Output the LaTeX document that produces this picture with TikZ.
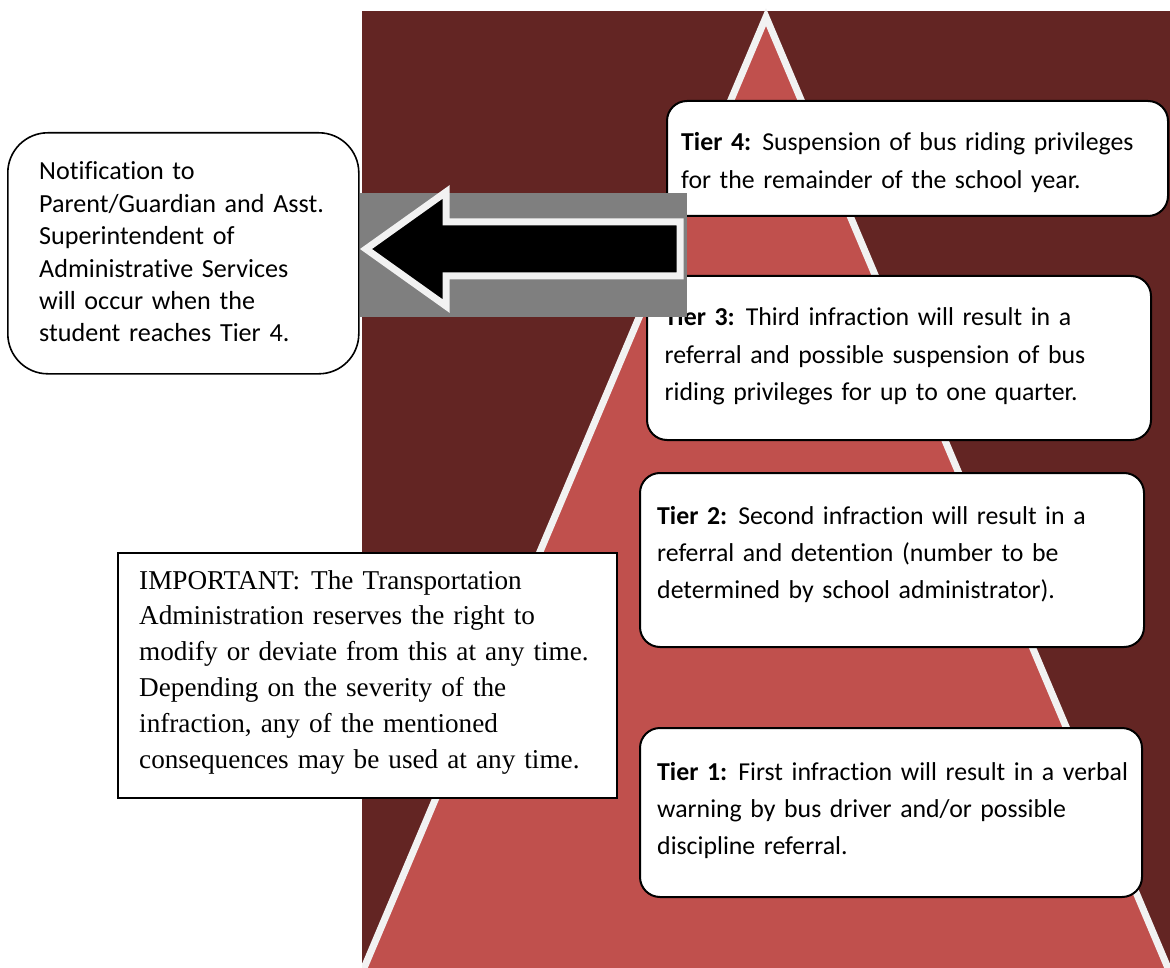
\documentclass[tikz,border=0pt]{standalone}
\usepackage{fontspec}
\setmainfont[Ligatures=NoCommon]{Carlito}
\newfontfamily\notefont{Liberation Serif}
\definecolor{pyrdark}{HTML}{632523}
\definecolor{pyrred}{HTML}{C0504D}
\definecolor{pyredge}{HTML}{F2F2F2}
\definecolor{arrowgray}{HTML}{7F7F7F}
\newcommand{\tiergap}{\hspace{11pt}}
\tikzset{
  tierbox/.style={draw=black, line width=2pt, fill=white, rounded corners=20pt,
    inner sep=0pt, anchor=north west},
  notebox/.style={draw=black, line width=1.6pt, fill=white, rounded corners=40pt,
    inner sep=0pt, anchor=north west},
  infobox/.style={draw=black, line width=2pt, fill=white,
    inner sep=0pt, anchor=north west},
  tiertext/.style={anchor=base west, inner sep=0pt, text width=520pt, align=left,
    font=\fontsize{25.8}{37.3}\selectfont},
  notetext/.style={anchor=base west, inner sep=0pt, text width=330pt, align=left,
    font=\fontsize{26.1}{32.4}\selectfont},
  infotext/.style={anchor=base west, inner sep=0pt, text width=480pt, align=left,
    font=\notefont\fontsize{27.2}{35.8}\selectfont},
  blockarrow/.style={fill=black, draw=pyredge, line width=7pt, line join=miter, miter limit=10},
}
\begin{document}
\begin{tikzpicture}[x=1pt,y=-1pt]
\useasboundingbox (0,0) rectangle (1170,968);

% dark panel and the pyramid
\fill[pyrdark] (362,11) rectangle (1170,968);
\begin{scope}
  \clip (362,0) rectangle (1170,968);
  \filldraw[fill=pyrred, draw=pyredge, line width=7pt, line join=miter, miter limit=10]
    (766,17) -- (766+0.4227*1000,1017) -- (766-0.4227*1000,1017) -- cycle;
\end{scope}

% tier boxes
\node[tierbox, minimum width=501pt, minimum height=115pt] (t4) at (666,100) {};
\node[tiertext] (t4txt) at (681,151)
  {\textbf{Tier 4:}\tiergap Suspension of bus riding privileges\\for the remainder of the school year.};

\node[tierbox, minimum width=504pt, minimum height=164pt] (t3) at (646,275) {};
\node[tiertext] (t3txt) at (664.5,326)
  {\textbf{Tier 3:}\tiergap Third infraction will result in a\\referral and possible suspension of bus\\riding privileges for up to one quarter.};

\node[tierbox, minimum width=504pt, minimum height=174pt] (t2) at (639,472) {};
\node[tiertext] (t2txt) at (657,524)
  {\textbf{Tier 2:}\tiergap Second infraction will result in a\\referral and detention (number to be\\determined by school administrator).};

\node[tierbox, minimum width=502pt, minimum height=169pt] (t1) at (639,727) {};
\node[tiertext] (t1txt) at (657,780)
  {\textbf{Tier 1:}\tiergap First infraction will result in a verbal\\warning by bus driver and/or possible\\discipline referral.};

% grey panel with the block arrow pointing left
\node[fill=arrowgray, inner sep=0pt, anchor=north west, minimum width=327pt, minimum height=124pt] (arrbg) at (360,193) {};
\filldraw[blockarrow]
  (366,249) -- (446,192) -- (446,222) -- (680,222) -- (680,276) -- (446,276) -- (446,306) -- cycle;

% notification box
\node[notebox, minimum width=351pt, minimum height=241pt] (note) at (7,132) {};
\node[notetext] (notetxt) at (39,180)
  {Notification to\\Parent/Guardian and Asst.\\Superintendent of\\Administrative Services\\will occur when the\\student reaches Tier 4.};

% important note box
\node[infobox, minimum width=499pt, minimum height=245pt] (info) at (117,552) {};
\node[infotext] (infotxt) at (139,589)
  {IMPORTANT:\hspace{11pt}The Transportation\\Administration reserves the right to\\modify or deviate from this at any time.\\Depending on the severity of the\\infraction, any of the mentioned\\consequences may be used at any time.};
\end{tikzpicture}
\end{document}
